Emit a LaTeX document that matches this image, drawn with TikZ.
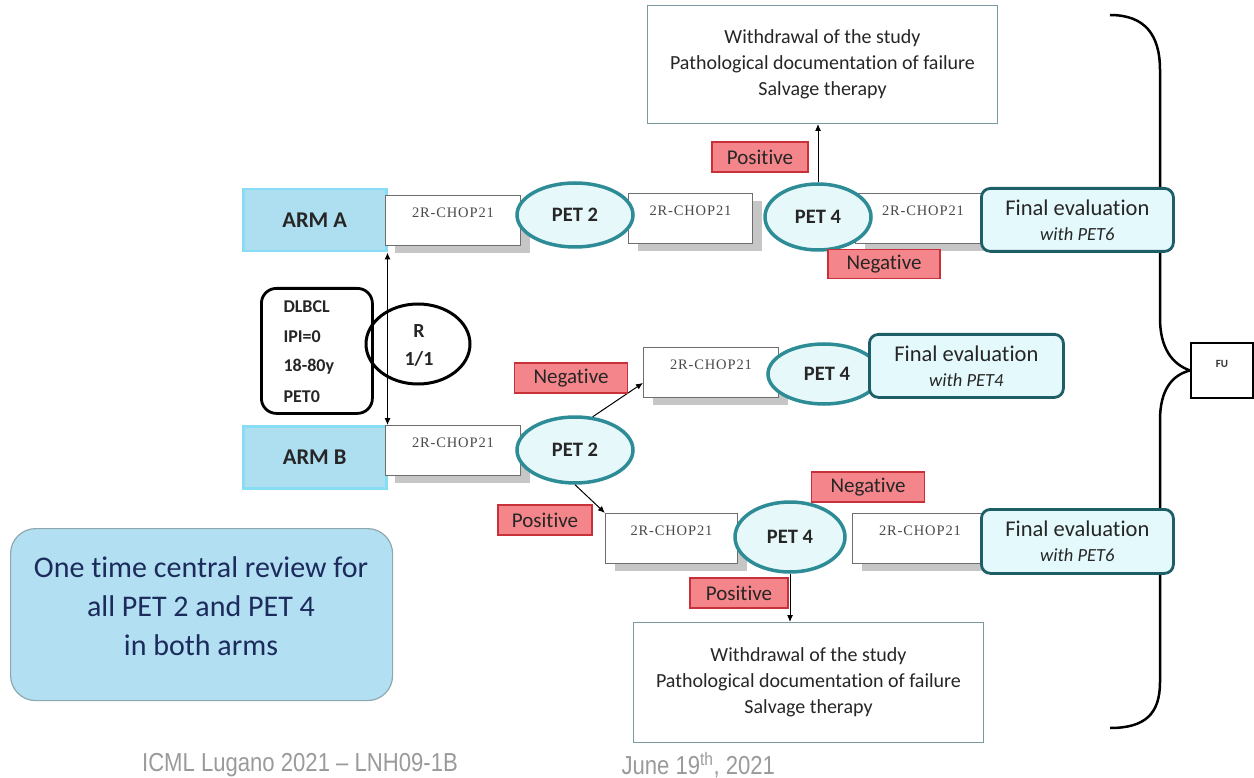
\documentclass[tikz,border=0pt]{standalone}
\usepackage{fontspec}
\setmainfont{Carlito}[Ligatures={NoCommon}]
\newfontfamily\chopfont{Liberation Serif}[LetterSpace=6]
\newfontfamily\footfont{Liberation Sans}[FakeStretch=0.85]
\usetikzlibrary{shapes.geometric,arrows.meta,shadows}
\definecolor{armfill}{HTML}{AEDFF0}
\definecolor{armdraw}{HTML}{86DDF4}
\definecolor{petfill}{HTML}{E6F8FA}
\definecolor{petdraw}{HTML}{2E8C96}
\definecolor{finfill}{HTML}{E4F9FB}
\definecolor{findraw}{HTML}{1E5E66}
\definecolor{redfill}{HTML}{F4858A}
\definecolor{reddraw}{HTML}{C8303A}
\definecolor{revfill}{HTML}{B2DFF1}
\definecolor{revdraw}{HTML}{8FA8B0}
\definecolor{revtext}{HTML}{1C2B5C}
\definecolor{wdraw}{HTML}{7A9AA0}
\definecolor{chopdraw}{HTML}{6E6E6E}
\definecolor{choptext}{HTML}{4A4A4A}
\definecolor{shadowc}{HTML}{C6C6C6}
\definecolor{footc}{HTML}{9A9A9A}
\tikzset{
  armbox/.style={draw=armdraw, fill=armfill, line width=2.5pt, anchor=north west, inner sep=0pt,
    font=\fontsize{22.5}{26}\selectfont\bfseries, text=black!85},
  chopbox/.style={draw=chopdraw, fill=white, line width=0.9pt, anchor=north west, inner sep=0pt,
    drop shadow={shadow xshift=10pt, shadow yshift=-8pt, fill=shadowc, opacity=1},
    label={[font=\chopfont\fontsize{14.5}{16}\selectfont, text=choptext, anchor=north, yshift=-9pt]north:2R-CHOP21}},
  petnode/.style={ellipse, draw=petdraw, fill=petfill, line width=3.5pt, inner sep=0pt,
    font=\fontsize{20.5}{24}\selectfont\bfseries, text=black!85},
  finbox/.style={draw=findraw, fill=finfill, line width=2.8pt, rounded corners=9pt, anchor=north west,
    inner sep=0pt, align=center, font=\fontsize{22.5}{26}\selectfont, text=black!85},
  redbox/.style={draw=reddraw, fill=redfill, line width=1.2pt, inner sep=0pt,
    font=\fontsize{21}{24}\selectfont, text=black!85},
  wbox/.style={draw=wdraw, fill=white, line width=1pt, anchor=north west, inner sep=0pt, align=center,
    font=\fontsize{20}{26}\selectfont, text=black!85},
  dltext/.style={anchor=west, font=\fontsize{18}{20}\selectfont\bfseries, text=black!85},
  rtext/.style={font=\fontsize{20}{23}\selectfont\bfseries, text=black!85},
  arr/.style={line width=1pt, -{Latex[length=7pt,width=6pt]}},
  biarr/.style={line width=1pt, {Latex[length=7pt,width=6pt]}-{Latex[length=7pt,width=6pt]}},
}
\begin{document}
\begin{tikzpicture}[x=1pt,y=-1pt]
\useasboundingbox (0,0) rectangle (1254,778);

% withdrawal boxes
\node[wbox, minimum width=350pt, minimum height=118pt] (wtop) at (647,5)
  {Withdrawal of the study\\Pathological documentation of failure\\Salvage therapy};
\node[wbox, minimum width=350pt, minimum height=120pt] (wbot) at (633,622)
  {Withdrawal of the study\\Pathological documentation of failure\\Salvage therapy};

% brace and FU
\node[draw, line width=2pt, fill=white, anchor=north west, minimum width=62pt, minimum height=55pt,
  inner sep=0pt, font=\fontsize{11}{12}\selectfont\bfseries, text=black!80] (fu) at (1190,342)
  {\raisebox{14pt}{FU}};
\draw[line width=2.5pt] (1110,15) .. controls (1145,15) and (1160,35) .. (1160,70) -- (1160,318)
  .. controls (1160,348) and (1172,364) .. (fu.west);
\draw[line width=2.5pt] (fu.west) .. controls (1172,375) and (1160,390) .. (1160,420) -- (1160,682)
  .. controls (1160,714) and (1145,728) .. (1110,728);

% arms
\node[armbox, minimum width=143pt, minimum height=62pt] (armA) at (242,188) {ARM A};
\node[armbox, minimum width=143pt, minimum height=62pt] (armB) at (242,425) {ARM B};

% DLBCL box and R circle
\node[draw, line width=2.8pt, rounded corners=15pt, anchor=north west, minimum width=111pt,
  minimum height=125pt, inner sep=0pt] (dl) at (260,287) {};
\node[dltext] (dl1) at (280,307) {DLBCL};
\node[dltext] (dl2) at (280,337) {IPI=0};
\node[dltext] (dl3) at (280,367) {18-80y};
\node[dltext] (dl4) at (280,397) {PET0};
\node[ellipse, draw, line width=3pt, minimum width=104pt, minimum height=80pt, inner sep=0pt] (rc) at (418,344) {};
\node[rtext] (rt1) at (419,331) {R};
\node[rtext] (rt2) at (419,359) {1/1};

% chop boxes
\node[chopbox, minimum width=135pt, minimum height=50pt] (a1) at (385,195) {};
\node[chopbox, minimum width=124pt, minimum height=50pt] (a2) at (628,193) {};
\node[chopbox, minimum width=135pt, minimum height=50pt] (a3) at (855,193) {};
\node[chopbox, minimum width=135pt, minimum height=50pt] (b1) at (385,425) {};
\node[chopbox, minimum width=135pt, minimum height=50pt] (bn) at (643,347) {};
\node[chopbox, minimum width=132pt, minimum height=50pt] (bp) at (605,513) {};
\node[chopbox, minimum width=135pt, minimum height=50pt] (bp2) at (852,513) {};

% PET ellipses
\node[petnode, minimum width=116pt, minimum height=64pt] (p2a) at (575,215) {PET 2};
\node[petnode, minimum width=106pt, minimum height=66pt] (p4a) at (818,217) {PET 4};
\node[petnode, minimum width=116pt, minimum height=66pt] (p2b) at (575,450) {PET 2};
\node[petnode, minimum width=112pt, minimum height=60pt] (p4n) at (824,374) {\hspace*{6pt}PET 4};
\node[petnode, minimum width=110pt, minimum height=70pt] (p4p) at (790,537) {PET 4};

% final evaluations
\node[finbox, minimum width=192pt, minimum height=63pt] (fa) at (980,187)
  {Final evaluation\\[-1pt]{\fontsize{18.5}{21}\selectfont\itshape with PET6}};
\node[finbox, minimum width=194pt, minimum height=63pt] (fn) at (868,333)
  {Final evaluation\\[-1pt]{\fontsize{18.5}{21}\selectfont\itshape with PET4}};
\node[finbox, minimum width=192pt, minimum height=64pt] (fp) at (980,508)
  {Final evaluation\\[-1pt]{\fontsize{18.5}{21}\selectfont\itshape with PET6}};

% arrows
\draw[biarr] (armA.south east) -- (armB.north east);
\draw[arr] (p4a.north) -- (p4a.north |- wtop.south);
\draw[arr] (p2b.62) -- ([yshift=15pt]bn.south west);
\draw[arr] (p2b.south) -- (bp.north west);
\draw[arr] (p4p.south) -- (p4p.south |- wbot.north);

% red labels
\node[redbox, minimum width=96pt, minimum height=30pt] (posA) at (760,157) {Positive};
\node[redbox, minimum width=112pt, minimum height=29pt] (negA) at (884,264) {Negative};
\node[redbox, minimum width=113pt, minimum height=30pt] (negB) at (571,378) {Negative};
\node[redbox, minimum width=94pt, minimum height=30pt] (posB) at (545,520) {Positive};
\node[redbox, minimum width=113pt, minimum height=30pt] (negB2) at (868,487) {Negative};
\node[redbox, minimum width=98pt, minimum height=30pt] (posB2) at (739,593) {Positive};

% review box
\node[draw=revdraw, fill=revfill, line width=1.2pt, rounded corners=25pt, anchor=north west,
  minimum width=382pt, minimum height=172pt, inner sep=0pt] (rev) at (10,528) {};
\node[align=center, text=revtext, font=\fontsize{30}{39}\selectfont] (revt) at (201,606)
  {One time central review for\\all PET 2 and PET 4\\in both arms};

% footer
\node[font=\footfont\fontsize{26}{28}\selectfont, text=footc] (f1) at (300,765) {ICML Lugano 2021 – LNH09-1B};
\node[anchor=west, font=\footfont\fontsize{26}{28}\selectfont, text=footc] (f2) at (618,765)
  {June 19\textsuperscript{th}, 2021};
\end{tikzpicture}
\end{document}
